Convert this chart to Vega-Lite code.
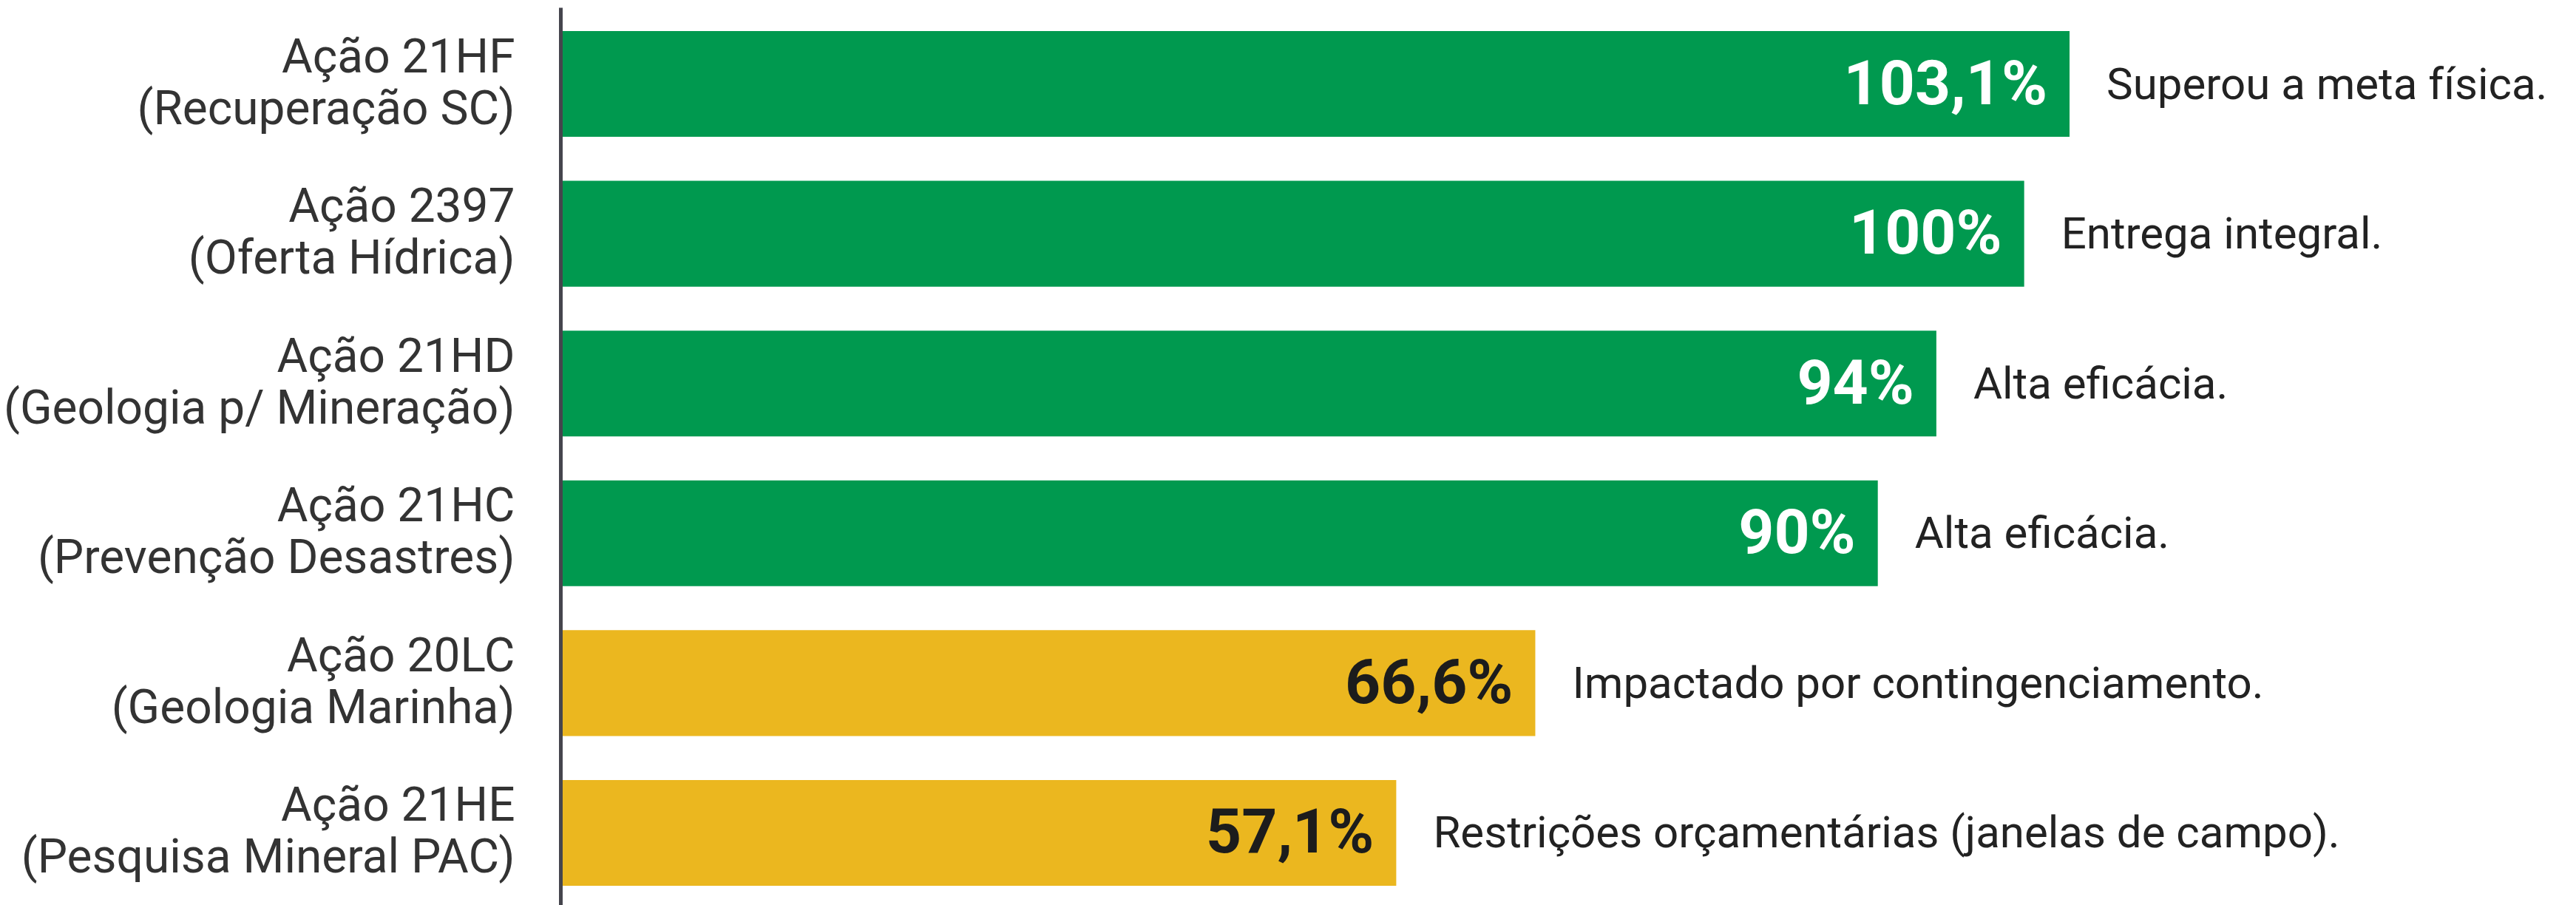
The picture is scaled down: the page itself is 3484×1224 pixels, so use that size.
{
  "$schema": "https://vega.github.io/schema/vega-lite/v6.json",
  "width": 2726,
  "height": 1220,
  "autosize": {"type": "none"},
  "padding": {"left": 758, "top": 10, "right": 0, "bottom": 0},
  "background": "#ffffff",
  "config": {"view": {"stroke": null}, "font": "Roboto"},
  "data": {
    "values": [
      {"acao": "Ação 21HF|(Recuperação SC)", "valor": 103.1, "rotulo": "103,1%", "nota": "Superou a meta física.", "status": "verde"},
      {"acao": "Ação 2397|(Oferta Hídrica)", "valor": 100, "rotulo": "100%", "nota": "Entrega integral.", "status": "verde"},
      {"acao": "Ação 21HD|(Geologia p/ Mineração)", "valor": 94, "rotulo": "94%", "nota": "Alta eficácia.", "status": "verde"},
      {"acao": "Ação 21HC|(Prevenção Desastres)", "valor": 90, "rotulo": "90%", "nota": "Alta eficácia.", "status": "verde"},
      {"acao": "Ação 20LC|(Geologia Marinha)", "valor": 66.6, "rotulo": "66,6%", "nota": "Impactado por contingenciamento.", "status": "amarelo"},
      {"acao": "Ação 21HE|(Pesquisa Mineral PAC)", "valor": 57.1, "rotulo": "57,1%", "nota": "Restrições orçamentárias (janelas de campo).", "status": "amarelo"}
    ]
  },
  "encoding": {
    "y": {
      "field": "acao",
      "type": "nominal",
      "sort": null,
      "title": null,
      "scale": {"paddingInner": 0.294, "paddingOuter": 0.158},
      "axis": {
        "domain": true,
        "domainColor": "#45454d",
        "domainWidth": 5,
        "ticks": false,
        "tickSize": 0,
        "grid": false,
        "labelFontSize": 64,
        "labelColor": "#333333",
        "labelLineHeight": 70,
        "labelPadding": 62,
        "labelOffset": -35,
        "labelLimit": 0,
        "labelAlign": "right",
        "labelBaseline": "middle",
        "labelExpr": "split(datum.label, '|')",
        "zindex": 1
      }
    },
    "x": {
      "field": "valor",
      "type": "quantitative",
      "scale": {"domain": [0, 137.7], "nice": false, "zero": true},
      "axis": null
    }
  },
  "layer": [
    {
      "mark": {"type": "bar"},
      "encoding": {
        "color": {
          "field": "status",
          "type": "nominal",
          "scale": {"domain": ["verde", "amarelo"], "range": ["#00994F", "#EBB71F"]},
          "legend": null
        }
      }
    },
    {
      "mark": {"type": "text", "align": "right", "baseline": "middle", "dx": -30, "dy": 2, "fontSize": 84, "fontWeight": "bold"},
      "encoding": {
        "text": {"field": "rotulo"},
        "color": {"condition": {"test": "datum.status === 'verde'", "value": "#ffffff"}, "value": "#1c1c1c"}
      }
    },
    {
      "mark": {"type": "text", "align": "left", "baseline": "middle", "dx": 50, "dy": 2, "fontSize": 60, "color": "#222222"},
      "encoding": {"text": {"field": "nota"}}
    }
  ]
}
